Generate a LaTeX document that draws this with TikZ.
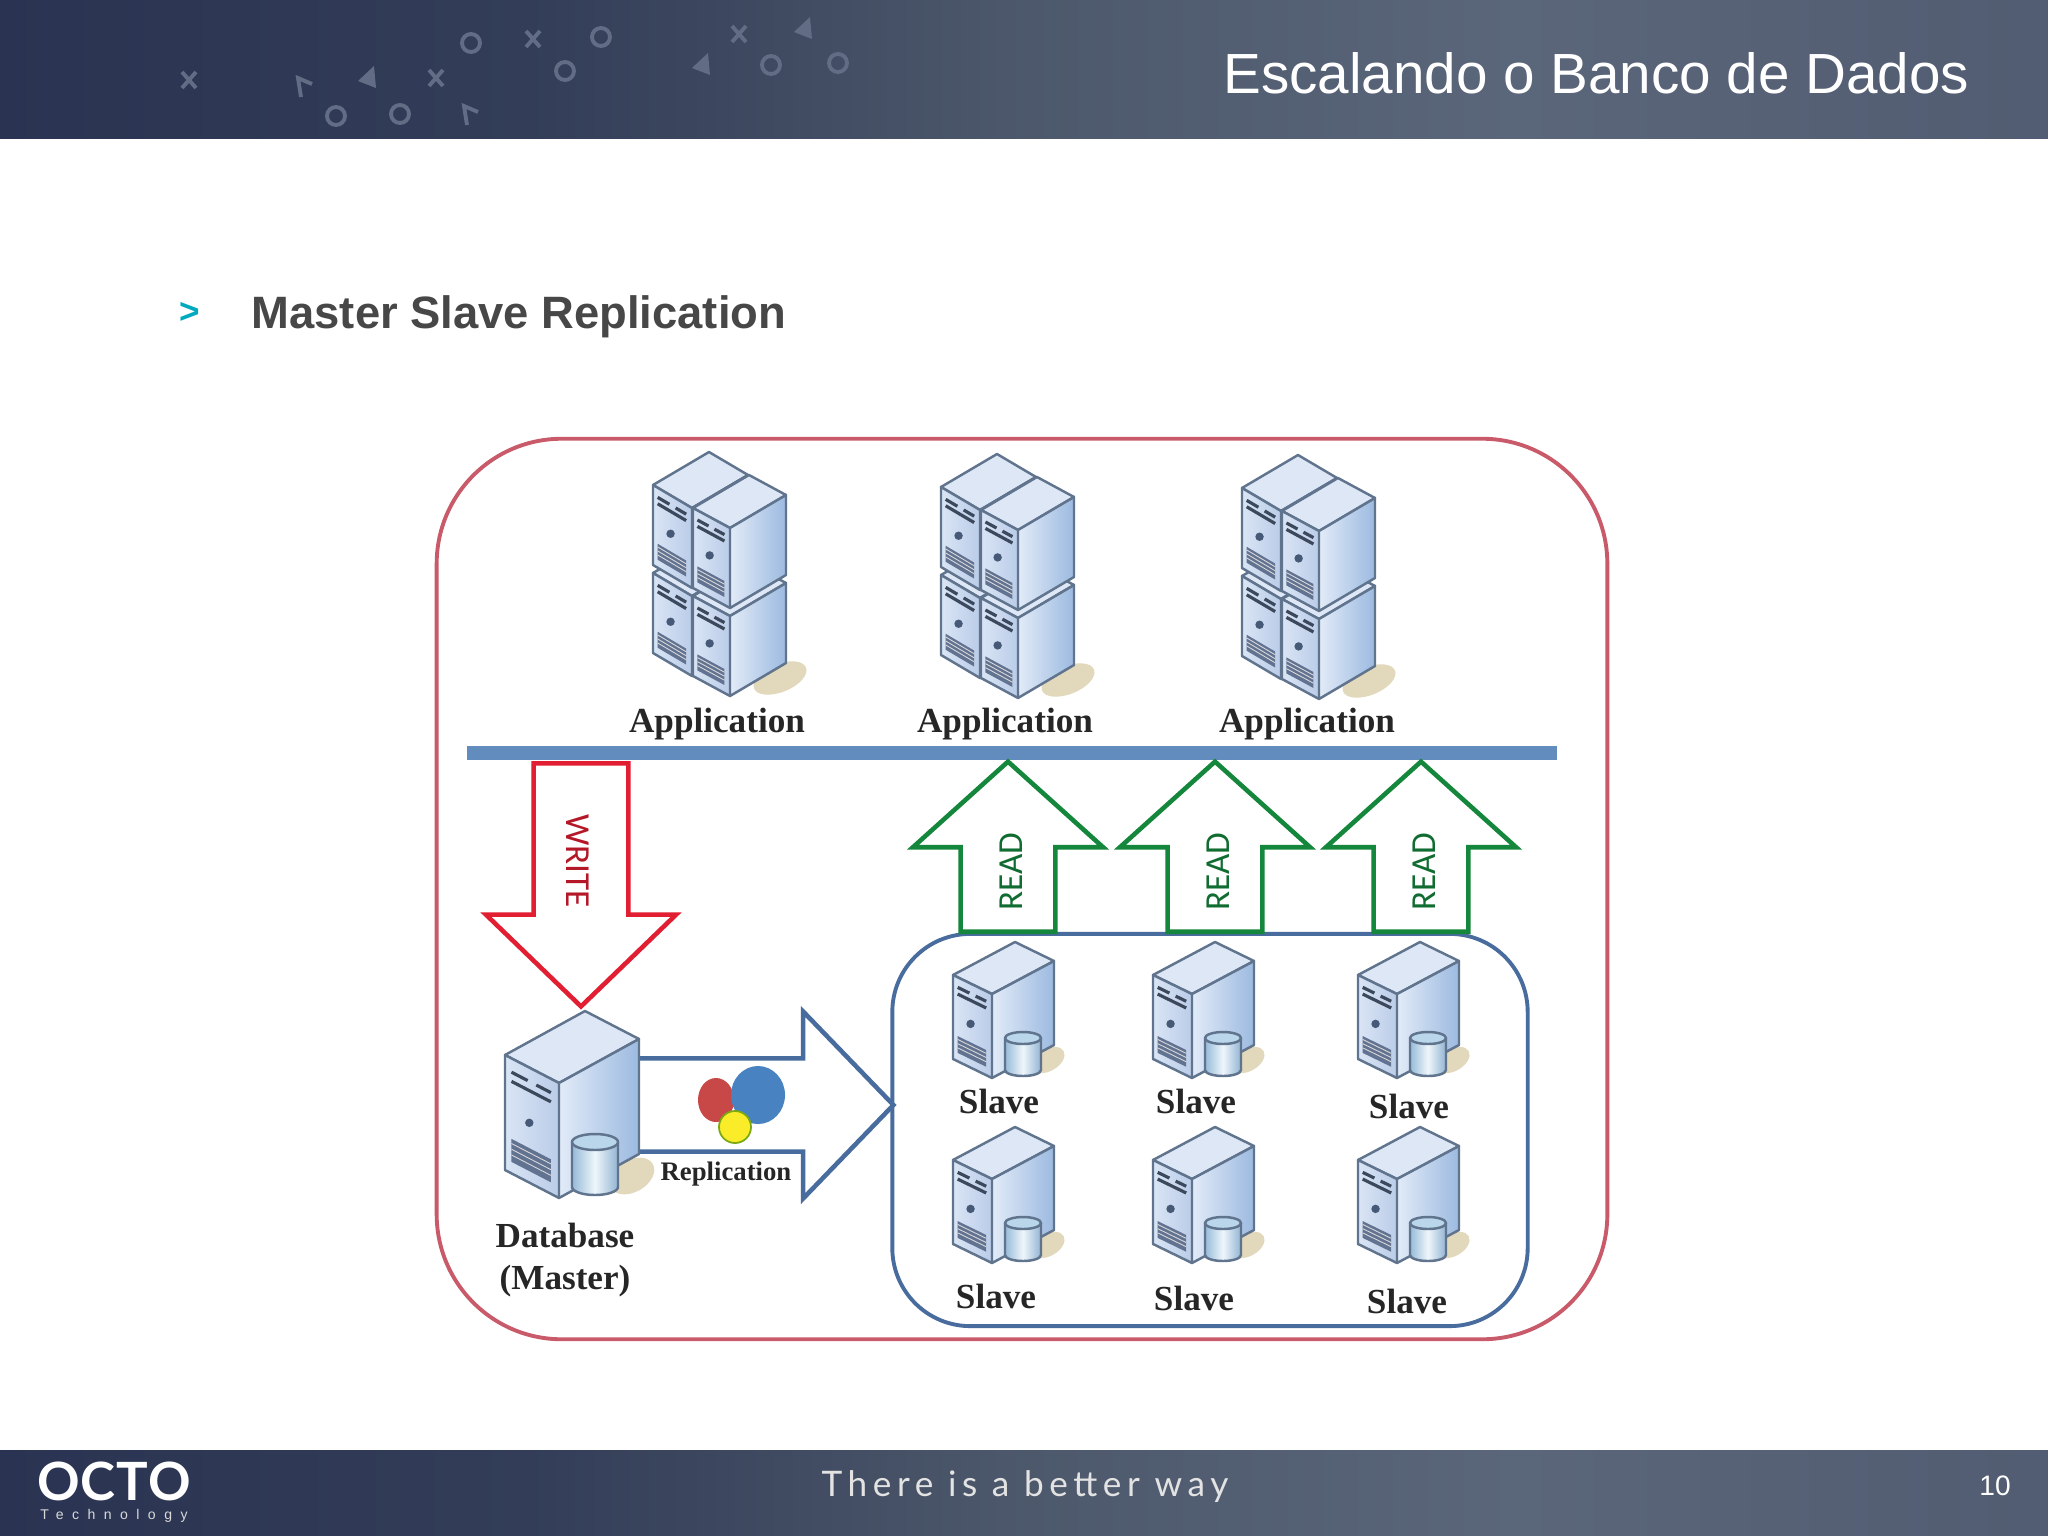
\documentclass[tikz,border=0pt]{standalone}
\usepackage{fontspec}
\usepackage{tikz}
\usetikzlibrary{calc}
\usetikzlibrary{shapes.arrows}
\setmainfont{Liberation Sans}
\newfontfamily\serverfont{Liberation Serif}
\newfontfamily\arrowfont{Carlito}
\newfontfamily\tagfont[LetterSpace=16]{Lato}
\newfontfamily\logofont[LetterSpace=2]{Lato}
\newfontfamily\subfont[LetterSpace=60]{Liberation Sans}
\definecolor{outerred}{RGB}{200,90,105}
\definecolor{slateblue}{RGB}{72,108,158}
\definecolor{busblue}{RGB}{98,140,190}
\definecolor{writered}{RGB}{225,30,50}
\definecolor{readgreen}{RGB}{20,135,60}
\definecolor{edgeblue}{RGB}{96,116,142}
\definecolor{sandy}{RGB}{226,216,188}
\definecolor{glyphgray}{RGB}{98,108,132}
\definecolor{teal}{RGB}{0,170,190}
\definecolor{topface}{RGB}{222,231,246}
\definecolor{frontl}{RGB}{218,229,245}
\definecolor{frontr}{RGB}{186,204,232}
\definecolor{sidel}{RGB}{226,235,248}
\definecolor{sider}{RGB}{156,186,224}
\definecolor{slotdark}{RGB}{60,72,92}
\definecolor{dotdark}{RGB}{70,90,120}
\definecolor{grill}{RGB}{98,114,145}
\definecolor{druml}{RGB}{150,186,216}
\definecolor{drumm}{RGB}{238,246,251}
\definecolor{drumr}{RGB}{146,180,210}
\definecolor{drumtop}{RGB}{186,214,234}
\definecolor{dotred}{RGB}{200,72,72}
\definecolor{dotblue}{RGB}{72,130,192}
\definecolor{dotyellow}{RGB}{250,236,40}
\pgfdeclarehorizontalshading{bandshade}{100bp}{
  rgb(0bp)=(0.165,0.204,0.322);
  rgb(25bp)=(0.165,0.204,0.322);
  rgb(38bp)=(0.200,0.240,0.345);
  rgb(50bp)=(0.300,0.345,0.420);
  rgb(62bp)=(0.355,0.400,0.480);
  rgb(75bp)=(0.320,0.360,0.445);
  rgb(100bp)=(0.320,0.360,0.445)}
\tikzset{
  lbl/.style={font=\serverfont\bfseries\fontsize{10}{11.7}\selectfont,text=black!85,inner sep=0pt,align=center},
  face/.style={draw=edgeblue,line width=0.7pt,line join=round},
  glyph/.style={draw=glyphgray,line width=1.1pt},
  blockarrow/.style={single arrow,draw,line width=1.3pt,inner xsep=0pt,inner ysep=0.085cm,minimum height=1.7cm,
    minimum width=1.9cm,single arrow tip angle=96,text height=8pt,text depth=0pt,
    font=\arrowfont\fontsize{10}{12}\selectfont},
  readarrow/.style={blockarrow,draw=readgreen,text=readgreen!80!black,rotate=90,anchor=tail},
  writearrow/.style={blockarrow,draw=writered,text=writered!80!black,rotate=-90,anchor=tail,
    minimum height=2.43cm,single arrow tip angle=92},
  pics/unit/.style n args={5}{code={
    \coordinate (l) at (-#1,-#2);
    \coordinate (f) at (0,0);
    \coordinate (r) at (#3,-#4);
    \coordinate (b) at (#3-#1,-#2-#4);
    \coordinate (lb) at (-#1,-#2+#5);
    \coordinate (fb) at (0,#5);
    \coordinate (rb) at (#3,-#4+#5);
    \filldraw[face,fill=topface] (l) -- (b) -- (r) -- (f) -- cycle;
    \shade[left color=frontl,right color=frontr] (l) -- (f) -- (fb) -- (lb) -- cycle;
    \shade[left color=sidel,right color=sider] (f) -- (r) -- (rb) -- (fb) -- cycle;
    \draw[face] (l) -- (f) -- (r) -- (rb) -- (fb) -- (lb) -- cycle (f) -- (fb);
    \begin{scope}[shift={(l)},x={(#1,#2)},y={(0,#5)}]
      \draw[line width=0.9pt,draw=slotdark]
        (0.12,0.12) -- (0.42,0.12) (0.58,0.12) -- (0.85,0.12) (0.12,0.2) -- (0.85,0.2);
      \fill[dotdark] (0.45,0.48) circle[radius=1.2pt];
      \fill[grill] (0.12,0.7) -- (0.85,0.7) -- (0.85,0.9) -- (0.12,0.9) -- cycle;
      \foreach \gy in {0.74,0.79,0.84} \draw[white!70!gray,line width=0.25pt] (0.12,\gy) -- (0.85,\gy);
    \end{scope}
  }},
  pics/drum/.style n args={3}{code={
    \shade[left color=druml,right color=drumr,middle color=drumm]
      (-#1,0) -- (-#1,#2) arc[start angle=180,end angle=360,x radius=#1*0.01cm,y radius=#3*0.01cm] -- (#1,0) -- cycle;
    \draw[face] (-#1,0) -- (-#1,#2) arc[start angle=180,end angle=360,x radius=#1*0.01cm,y radius=#3*0.01cm] -- (#1,0);
    \filldraw[face,fill=drumtop] (0,0) ellipse[x radius=#1*0.01cm,y radius=#3*0.01cm];
  }},
  pics/rack/.style={code={
    \fill[sandy] (50,150) ellipse[x radius=0.28cm,y radius=0.14cm,rotate=22];
    \pic at (-38,68) {unit={39}{23}{56}{33}{80}};
    \pic at (-38,-20) {unit={39}{23}{56}{33}{80}};
    \pic at (0,88) {unit={37}{20}{56}{33}{80}};
    \pic at (0,0) {unit={37}{20}{56}{33}{80}};
  }},
  pics/slaveserver/.style={code={
    \fill[sandy] (56,66) ellipse[x radius=0.18cm,y radius=0.11cm,rotate=30];
    \pic at (0,0) {unit={39}{19}{62}{33}{84}};
    \pic at (31,44) {drum={18}{32}{6}};
  }},
}
\begin{document}
\begin{tikzpicture}[x=0.01cm,y=-0.01cm]
  \path[use as bounding box,fill=white] (0,0) rectangle (2048,1536);
  \shade[shading=bandshade] (0,0) rectangle (2048,138);
  \shade[shading=bandshade] (0,1450) rectangle (2048,1536);
  \foreach \gx/\gy in {189/80,436/78,533/39,739/34}
    \draw[glyph] (\gx-7,\gy-8) -- (\gx+7,\gy+8) (\gx+7,\gy-8) -- (\gx-7,\gy+8);
  \foreach \gx/\gy in {336/116,400/114,471/43,565/71,601/37,771/65,838/63}
    \draw[glyph] (\gx,\gy) circle[radius=0.09cm];
  \foreach \gx/\gy in {367/78,701/65,803/29}
    \fill[glyphgray] (\gx+7,\gy-12) -- (\gx+9,\gy+10) -- (\gx-9,\gy+3) -- cycle;
  \foreach \gx/\gy in {304/86,470/114}
    \draw[glyph] (\gx-3,\gy+11) -- (\gx-6,\gy-8) -- (\gx+8,\gy-2);

  \node[inner sep=0pt,anchor=east,text=white,font=\fontsize{16.1}{19}\selectfont] (title) at (1970,73) {Escalando o Banco de Dados};
  \node[inner sep=0pt,text=teal,font=\bfseries\fontsize{10}{12}\selectfont] (bullet) at (190,313) {>};
  \node[inner sep=0pt,anchor=west,text=black!72,font=\bfseries\fontsize{12.9}{16}\selectfont] (heading) at (251,317) {Master Slave Replication};

  \node[draw=outerred,line width=1.1pt,rounded corners=1.25cm,minimum width=11.7cm,minimum height=9cm] (cluster) at (1022,889) {};
  \node[draw=slateblue,line width=1.1pt,rounded corners=0.78cm,minimum width=6.35cm,minimum height=3.92cm] (slaves) at (1210,1130) {};
  \node[fill=busblue,minimum width=10.89cm,minimum height=0.14cm,inner sep=0pt] (bus) at (1012,753) {};

  \node[writearrow]             (write) at (581,761)  {WRITE\hspace*{0.02cm}};
  \node[readarrow]              (read1) at (1008,934) {READ\hspace*{0.075cm}};
  \node[readarrow]              (read2) at (1215,934) {READ\hspace*{0.075cm}};
  \node[readarrow]              (read3) at (1421,934) {READ\hspace*{0.075cm}};
  \node[blockarrow,draw=slateblue,anchor=tail,minimum height=2.56cm,minimum width=1.87cm,
        single arrow tip angle=92] (repl) at (635,1105) {};

  \fill[dotred]    (716,1100) ellipse[x radius=0.18cm,y radius=0.22cm];
  \fill[dotblue]   (758,1095) ellipse[x radius=0.27cm,y radius=0.29cm];
  \filldraw[draw=dotyellow!70!green!70!black,line width=0.5pt,fill=dotyellow] (735,1127) ellipse[x radius=0.16cm,y radius=0.16cm];
  \node[lbl,font=\serverfont\bfseries\fontsize{7.6}{10}\selectfont] (repllabel) at (726,1174) {Replication};

  \fill[sandy] (632,1176) ellipse[x radius=0.24cm,y radius=0.16cm,rotate=30];
  \pic at (559,1083) {unit={54}{28}{80}{44}{115}};
  \pic at (595,1142) {drum={23}{45}{8}};
  \node[lbl] (master) at (565,1260) {Database\\(Master)};

  \pic at (730,528)  {rack};
  \pic at (1018,530) {rack};
  \pic at (1319,531) {rack};
  \node[lbl] (app1) at (717,724)  {Application};
  \node[lbl] (app2) at (1005,724) {Application};
  \node[lbl] (app3) at (1307,724) {Application};

  \foreach \sx in {992,1192,1397}
    \foreach \sy in {994,1179}
      \pic at (\sx,\sy) {slaveserver};
  \node[lbl] (slave1) at (999,1101)  {Slave};
  \node[lbl] (slave2) at (1196,1101) {Slave};
  \node[lbl] (slave3) at (1409,1106) {Slave};
  \node[lbl] (slave4) at (996,1296)  {Slave};
  \node[lbl] (slave5) at (1194,1298) {Slave};
  \node[lbl] (slave6) at (1407,1301) {Slave};

  \node[inner sep=0pt,text=white,font=\logofont\bfseries\fontsize{15}{18}\selectfont] (logo) at (114,1481) {OCTO};
  \node[inner sep=0pt,text=white!70!gray,font=\subfont\fontsize{4}{5}\selectfont] (logosub) at (114,1516) {Technology};
  \node[inner sep=0pt,text=white!78!gray,font=\tagfont\fontsize{10}{12}\selectfont] (tagline) at (1025,1487) {There is a better way};
  \node[inner sep=0pt,text=white,font=\fontsize{8}{10}\selectfont] (pageno) at (1995,1486) {10};
\end{tikzpicture}
\end{document}
